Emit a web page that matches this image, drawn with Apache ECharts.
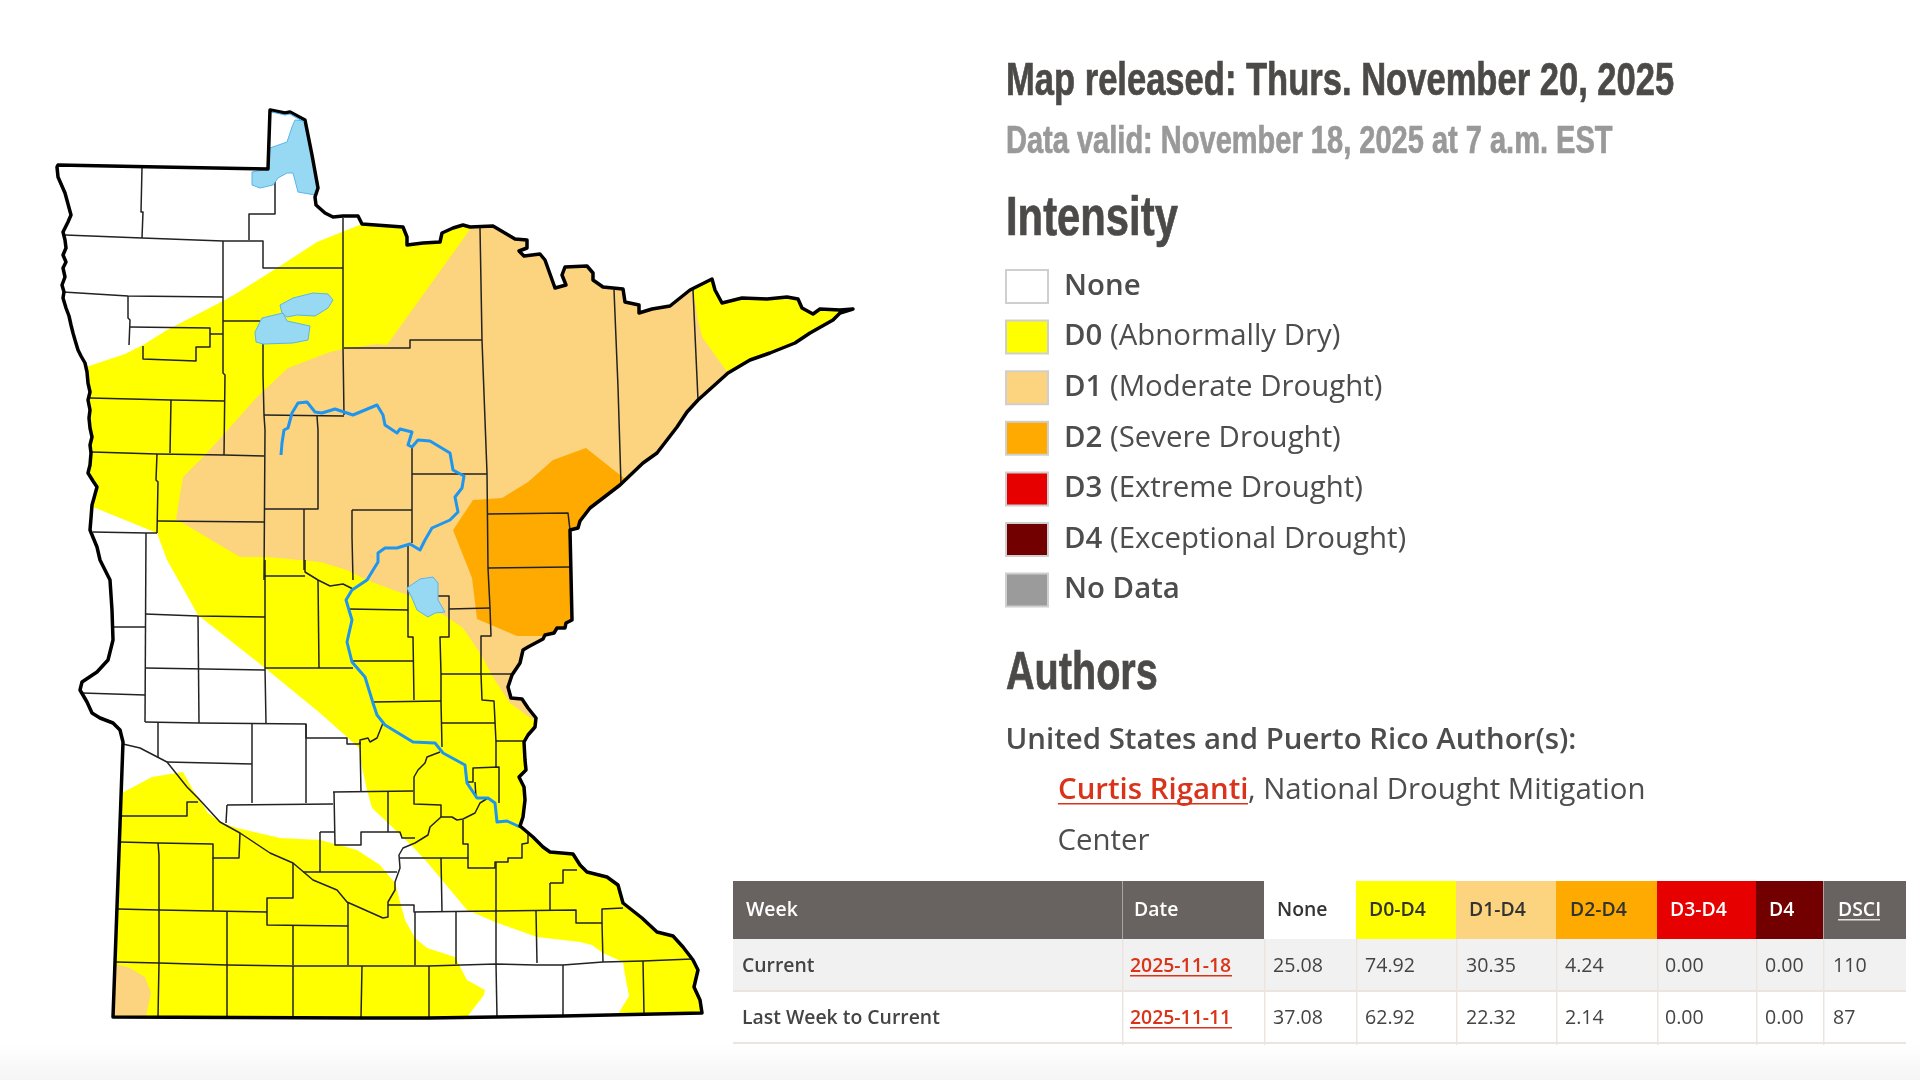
<!DOCTYPE html>
<html>
<head>
<meta charset="utf-8">
<title>Minnesota drought map</title>
<script src="https://cdn.jsdelivr.net/npm/echarts@6/dist/echarts.min.js"></script>
<style>
html, body { margin: 0; padding: 0; background: #fff; }
#main { width: 1920px; height: 1080px; }
</style>
</head>
<body>
<div id="main"></div>
<script>
// map shapes
var stateOutline = [[58,165],[160,167],[268,169],[270,110],[285,113],[290,112],[305,120],[312,155],[318,188],[315,197],[316,205],[325,213],[333,217],[343,216],[358,216],[362,224],[403,227],[407,237],[407,245],[423,243],[440,242],[442,233],[453,228],[463,225],[470,227],[493,226],[515,239],[527,240],[527,248],[519,251],[524,256],[540,254],[545,260],[555,288],[566,285],[562,275],[565,267],[587,266],[593,273],[593,280],[603,287],[623,289],[625,302],[639,305],[639,313],[652,309],[670,306],[690,290],[712,279],[715,290],[722,303],[742,298],[767,299],[787,297],[798,299],[802,308],[813,314],[820,309],[840,310],[853,309],[840,313],[833,320],[810,333],[795,343],[770,353],[750,360],[728,373],[698,400],[687,412],[677,427],[657,453],[643,463],[620,485],[590,508],[580,521],[578,528],[570,530],[572,620],[566,623],[565,628],[557,628],[554,633],[545,635],[543,639],[528,647],[523,650],[520,663],[512,675],[508,687],[511,698],[522,699],[528,708],[536,718],[535,727],[528,735],[524,742],[525,760],[526,770],[519,777],[524,787],[525,800],[523,817],[520,826],[533,837],[543,847],[550,852],[573,854],[580,865],[587,872],[607,877],[618,885],[623,903],[642,918],[657,932],[673,936],[683,947],[693,960],[698,970],[694,987],[700,1000],[702,1013],[563,1016],[496,1017],[428,1018],[360,1018],[113,1017],[123,742],[120,730],[113,723],[100,718],[92,713],[87,702],[80,690],[82,682],[97,672],[108,660],[113,640],[112,610],[110,580],[100,560],[97,547],[90,530],[91,518],[92,505],[94,498],[97,487],[93,481],[88,473],[90,465],[91,453],[90,445],[92,437],[90,428],[89,418],[90,410],[88,400],[90,392],[88,383],[87,372],[85,363],[81,356],[78,350],[75,340],[73,333],[71,325],[69,316],[66,308],[63,298],[64,292],[62,285],[65,277],[63,268],[66,262],[63,255],[66,248],[65,240],[63,232],[66,226],[68,222],[71,215],[65,193],[58,177],[57,167]];
var countyLines = [
  [[142,168],[141,212],[143,212],[142,238]],
  [[275,177],[275,214],[249,214],[249,240]],
  [[65,235],[142,238],[223,241],[263,241],[263,268],[343,268]],
  [[343,218],[343,347],[344,415]],
  [[63,292],[128,296],[223,297]],
  [[223,241],[223,373],[225,375],[224,455]],
  [[128,296],[128,318],[130,320],[129,345]],
  [[130,327],[210,328],[210,347],[196,347],[196,361],[143,359],[143,346]],
  [[210,334],[223,334]],
  [[223,321],[260,321]],
  [[263,343],[263,375],[264,415],[265,430],[264,580]],
  [[90,398],[171,400],[225,401]],
  [[171,400],[170,453]],
  [[92,452],[157,454],[224,455],[264,456]],
  [[157,454],[156,480],[158,482],[157,533]],
  [[157,521],[264,522]],
  [[264,415],[344,416]],
  [[317,416],[318,430],[318,483],[318,509],[264,509]],
  [[304,509],[304,570]],
  [[344,348],[410,348],[410,340],[482,340]],
  [[480,228],[482,340],[483,367],[487,473],[488,568],[490,608],[491,636],[481,636],[481,674]],
  [[412,447],[412,543]],
  [[412,474],[487,474]],
  [[352,510],[412,510]],
  [[352,510],[352,537],[353,580]],
  [[93,532],[146,533],[157,533]],
  [[146,533],[145,722]],
  [[614,290],[618,387],[621,485]],
  [[693,290],[698,400]],
  [[488,514],[568,513],[570,530]],
  [[488,568],[570,567]],
  [[449,609],[490,608]],
  [[438,596],[449,596],[449,637],[440,637],[441,674],[441,702],[442,747]],
  [[441,674],[513,674]],
  [[408,545],[408,637],[413,637],[414,700]],
  [[265,576],[305,576]],
  [[305,560],[305,572],[318,580],[330,586],[343,584],[353,589]],
  [[265,560],[265,668],[266,723]],
  [[318,580],[319,668]],
  [[348,609],[408,610]],
  [[351,661],[413,661]],
  [[265,668],[353,668]],
  [[373,702],[441,701]],
  [[481,674],[482,700],[494,701],[496,742],[496,768]],
  [[442,723],[495,723]],
  [[496,741],[523,741]],
  [[467,782],[473,782],[473,768],[499,767],[499,803]],
  [[475,782],[476,798]],
  [[440,752],[427,757],[425,763],[418,770],[414,777],[414,804],[441,805],[441,817]],
  [[488,798],[480,803],[475,813],[463,819],[457,820],[452,817],[441,817],[430,827],[428,835],[415,843],[403,848],[399,855],[400,868],[395,882],[395,890],[388,902],[388,917],[383,918],[347,902],[337,890],[313,880],[293,863],[270,853],[240,833],[220,822],[198,798],[187,787],[167,762],[140,748],[123,744]],
  [[333,792],[413,791]],
  [[360,742],[361,792]],
  [[145,722],[198,723],[306,724],[306,738],[347,738],[347,744],[360,744],[360,740],[368,738],[370,742],[377,738],[383,723]],
  [[145,614],[198,616],[265,617]],
  [[198,616],[199,723]],
  [[145,668],[265,670]],
  [[113,627],[145,627]],
  [[82,693],[145,695]],
  [[158,723],[158,757]],
  [[167,762],[252,764]],
  [[252,724],[252,803]],
  [[306,724],[306,803]],
  [[227,805],[333,804]],
  [[227,805],[226,823]],
  [[334,792],[335,845],[361,845],[361,832],[400,832],[402,838],[415,838]],
  [[388,792],[388,832]],
  [[320,832],[334,832]],
  [[320,832],[320,872]],
  [[303,872],[397,872]],
  [[240,833],[239,858],[213,858],[213,844],[158,843],[120,842]],
  [[158,843],[159,855],[159,910]],
  [[213,858],[213,911]],
  [[198,802],[187,802],[187,816],[120,816]],
  [[293,863],[293,898],[267,898],[267,925],[348,926]],
  [[348,902],[348,965]],
  [[293,926],[293,965]],
  [[118,909],[159,910],[213,911],[267,912]],
  [[227,912],[227,1017]],
  [[159,910],[159,963],[158,1017]],
  [[116,962],[159,963],[227,965],[293,966],[362,966],[428,966],[496,964],[535,965],[563,965],[603,962],[643,961],[692,959]],
  [[293,966],[293,1017]],
  [[362,966],[361,1018]],
  [[429,966],[429,1018]],
  [[496,964],[497,1017]],
  [[563,965],[563,1016]],
  [[415,912],[415,965]],
  [[388,905],[414,905],[414,912],[495,911],[576,910],[576,923],[602,923],[602,909],[623,908]],
  [[456,912],[456,964]],
  [[496,862],[496,964]],
  [[536,911],[537,963]],
  [[400,858],[441,858],[468,858],[468,868],[495,868],[495,862],[508,862],[508,858],[522,858],[522,844],[528,843],[528,833]],
  [[441,858],[442,912]],
  [[463,820],[463,844],[468,844],[468,858]],
  [[550,883],[563,883],[563,870],[577,870]],
  [[550,883],[550,910]],
  [[602,923],[603,962]],
  [[643,961],[644,1013]]
];
var noneAreas = [stateOutline];
var d0Areas = [
  [[86,367],[125,354],[143,345],[167,330],[223,301],[237,293],[277,268],[317,242],[362,224],[362,205],[880,205],[880,1030],[618,1030],[618,1014],[629,996],[625,975],[623,962],[603,953],[592,945],[580,942],[537,937],[495,922],[472,912],[467,910],[442,880],[427,862],[413,847],[388,823],[372,808],[367,790],[362,767],[359,748],[347,737],[320,713],[265,668],[198,615],[167,560],[157,533],[93,507],[50,490],[50,375]],
  [[100,805],[122,793],[152,777],[183,772],[193,790],[208,813],[220,822],[237,828],[280,838],[320,840],[357,850],[380,865],[395,883],[405,920],[415,938],[427,948],[455,957],[467,980],[485,990],[484,995],[467,1017],[467,1030],[100,1030]]
];
var d1Areas = [
  [[471,228],[387,345],[377,344],[343,349],[330,352],[288,368],[257,397],[225,433],[205,455],[183,477],[176,519],[240,557],[267,557],[320,562],[347,570],[367,580],[393,590],[408,595],[447,617],[463,628],[480,653],[493,677],[510,703],[540,725],[600,600],[650,470],[728,373],[702,337],[698,320],[693,290],[690,270],[480,200]],
  [[100,964],[116,964],[130,968],[145,977],[151,993],[146,1016],[146,1030],[100,1030]]
];
var d2Areas = [
  [[473,500],[502,498],[528,482],[553,460],[586,448],[620,475],[640,490],[600,640],[543,636],[517,636],[477,619],[472,578],[453,530]]
];
var lakes = [
  [[252,172],[268,169],[270,148],[287,142],[292,127],[295,120],[305,121],[312,155],[318,188],[315,195],[298,192],[293,173],[287,173],[278,178],[273,185],[260,188],[252,185]],
  [[280,305],[293,298],[313,293],[328,294],[333,300],[328,308],[315,316],[297,315],[287,317],[282,313]],
  [[283,313],[287,321],[310,326],[308,340],[293,343],[263,344],[256,342],[255,332],[262,318]],
  [[407,588],[420,579],[433,577],[438,583],[438,600],[445,612],[435,613],[428,617],[417,610],[412,598]]
];
var lakeEdges = [
  [[272,112],[285,115],[290,114],[304,122]]
];
var rivers = [
  [[281,455],[282,443],[284,430],[288,428],[292,413],[298,403],[307,402],[315,412],[322,413],[335,409],[353,415],[377,405],[383,415],[385,425],[397,433],[400,429],[412,432],[408,445],[412,447],[418,440],[430,441],[450,453],[453,470],[464,476],[462,488],[455,497],[458,512],[450,520],[432,528],[425,540],[420,550],[410,544],[397,548],[385,548],[378,553],[378,562],[367,580],[352,590],[346,600],[352,620],[347,642],[352,662],[365,677],[373,703],[377,715],[385,725],[413,742],[435,743],[443,753],[465,765],[467,783],[477,798],[488,798],[495,803],[497,822],[507,821],[520,827]]
];

// page text
var titleText = 'Map released: Thurs. November 20, 2025';
var validText = 'Data valid: November 18, 2025 at 7 a.m. EST';
var legendNames = ['None', 'D0', 'D1', 'D2', 'D3', 'D4', 'No Data'];
var legendNotes = ['', '(Abnormally Dry)', '(Moderate Drought)', '(Severe Drought)', '(Extreme Drought)', '(Exceptional Drought)', ''];
var legendColors = ['#ffffff', '#ffff00', '#fcd37f', '#ffaa00', '#e60000', '#730000', '#9b9b9b'];

// table
var tableHeader = ['Week', 'Date', 'None', 'D0-D4', 'D1-D4', 'D2-D4', 'D3-D4', 'D4', 'DSCI'];
var rowCurrent = ['Current', '2025-11-18', '25.08', '74.92', '30.35', '4.24', '0.00', '0.00', '110'];
var rowLastWeek = ['Last Week to Current', '2025-11-11', '37.08', '62.92', '22.32', '2.14', '0.00', '0.00', '87'];

var bodyFont = '"Open Sans", sans-serif';
var headFont = '"Liberation Sans Narrow", "Liberation Sans", sans-serif';
var headColor = '#4b4a48';
var bodyColor = '#4d4d4d';
var linkColor = '#d9341a';
var ruleColor = '#ece5df';

function toPixels(points, api) {
    var out = [];
    for (var i = 0; i < points.length; i++) {
        out.push(api.coord(points[i]));
    }
    return out;
}

function indexData(list) {
    var out = [];
    for (var i = 0; i < list.length; i++) {
        out.push([i, 0]);
    }
    return out;
}

// fills are cut to the state shape
function areaSeries(name, areas, color) {
    return {
        name: name,
        type: 'custom',
        coordinateSystem: 'cartesian2d',
        silent: true,
        clip: false,
        itemStyle: { color: color },
        data: indexData(areas),
        renderItem: function(params, api) {
            return {
                type: 'polygon',
                shape: { points: toPixels(areas[params.dataIndex], api) },
                style: { fill: color },
                clipPath: { type: 'polygon', shape: { points: toPixels(stateOutline, api) } }
            };
        }
    };
}

function lakeSeries() {
    return {
        type: 'custom',
        coordinateSystem: 'cartesian2d',
        silent: true,
        clip: false,
        data: indexData(lakes),
        renderItem: function(params, api) {
            return {
                type: 'polygon',
                shape: { points: toPixels(lakes[params.dataIndex], api) },
                style: { fill: '#97d9f3', stroke: '#5ab4ee', lineWidth: 1 }
            };
        }
    };
}

function pathSeries(lines, color, width, closed) {
    return {
        type: 'custom',
        coordinateSystem: 'cartesian2d',
        silent: true,
        clip: false,
        data: indexData(lines),
        renderItem: function(params, api) {
            return {
                type: closed ? 'polygon' : 'polyline',
                shape: { points: toPixels(lines[params.dataIndex], api) },
                style: { fill: null, stroke: color, lineWidth: width, lineJoin: 'round' }
            };
        }
    };
}

/*==========================================
 * right hand text and table, as graphic elements
 */
function label(text, x, y, size, color, weight) {
    return {
        type: 'text',
        x: x,
        y: y,
        style: {
            text: text,
            fill: color,
            font: (weight || 'normal') + ' ' + size + 'px ' + bodyFont,
            textVerticalAlign: 'middle'
        }
    };
}

// narrow the heading font down to the width of the original
function heading(text, x, y, size, color, scaleX) {
    return {
        type: 'text',
        x: x,
        y: y,
        scaleX: scaleX,
        style: {
            text: text,
            fill: color,
            stroke: color,
            lineWidth: 0.7,
            font: 'bold ' + size + 'px ' + headFont,
            textVerticalAlign: 'bottom'
        }
    };
}

function box(x, y, w, h, fill) {
    return { type: 'rect', shape: { x: x, y: y, width: w, height: h }, style: { fill: fill } };
}

function buildGraphic() {
    var els = [];
    els.push({
        type: 'rect',
        z: -10,
        shape: { x: 0, y: 1044, width: 1920, height: 36 },
        style: {
            fill: new echarts.graphic.LinearGradient(0, 0, 0, 1, [
                { offset: 0, color: '#ffffff' },
                { offset: 1, color: '#f5f5f5' }
            ])
        }
    });
    els.push(heading(titleText, 1006, 105.7, 46, headColor, 0.751));
    els.push(heading(validText, 1006, 161.5, 38.4, '#999999', 0.756));
    els.push(heading('Intensity', 1006, 247.5, 55, headColor, 0.76));
    els.push(heading('Authors', 1006, 701, 53.5, headColor, 0.74));
    els.push(label('United States and Puerto Rico Author(s):', 1005.5, 741, 29.4, bodyColor, 600));
    els.push(label('Curtis Riganti', 1058, 791, 29.4, linkColor, 600));
    els.push(box(1058, 803, 190, 1.6, linkColor));
    els.push(label(', National Drought Mitigation', 1248, 791, 29.4, bodyColor));
    els.push(label('Center', 1057.5, 842, 29.4, bodyColor));

    var edges = [733, 1122, 1264, 1356, 1456, 1556, 1657, 1756, 1823, 1906];
    var headFill = ['#686360', '#686360', '#ffffff', '#ffff00', '#fcd37f', '#ffaa00', '#e60000', '#730000', '#686360'];
    var headText = ['#ffffff', '#ffffff', '#333333', '#333333', '#333333', '#333333', '#ffffff', '#ffffff', '#ffffff'];
    var headX = [746, 1134, 1277, 1369, 1469, 1570, 1670, 1769, 1838];
    var cellX = [742, 1130, 1273, 1365, 1466, 1565, 1665, 1765, 1833];
    var i;

    els.push(box(733, 939, 1173, 52, '#f1f1f1'));
    els.push(box(733, 990, 1173, 2, ruleColor));
    els.push(box(733, 1042, 1173, 2, ruleColor));
    for (i = 0; i < tableHeader.length; i++) {
        els.push(box(edges[i], 881, edges[i + 1] - edges[i], 58, headFill[i]));
        if (i > 0) {
            els.push(box(edges[i], 939, 1.5, 106, ruleColor));
        }
    }
    els.push(box(1122, 881, 1, 58, '#a9a5a2'));
    els.push(box(1823, 881, 1, 58, '#a9a5a2'));
    for (i = 0; i < tableHeader.length; i++) {
        els.push(label(tableHeader[i], headX[i], 910, 19.4, headText[i], 600));
        els.push(label(rowCurrent[i], cellX[i], 966, i < 2 ? 19.4 : 19.6, i == 1 ? linkColor : '#444444', i < 2 ? 600 : 'normal'));
        els.push(label(rowLastWeek[i], cellX[i], 1018, i < 2 ? 19.4 : 19.6, i == 1 ? linkColor : '#444444', i < 2 ? 600 : 'normal'));
    }
    els.push(box(1130, 975, 102, 1.5, linkColor));
    els.push(box(1130, 1027, 102, 1.5, linkColor));
    els.push(box(1838, 919, 42, 1.5, '#e4e2e0'));
    return els;
}

function legendFormatter(name) {
    var i = legendNames.indexOf(name);
    return '{b|' + name + '}' + (legendNotes[i] ? ' ' + legendNotes[i] : '');
}

function legendData() {
    var out = [];
    for (var i = 0; i < legendNames.length; i++) {
        out.push({
            name: legendNames[i],
            icon: 'rect',
            itemStyle: { color: legendColors[i], borderColor: '#cfcfcf', borderWidth: 2 }
        });
    }
    return out;
}

var myChart = echarts.init(document.getElementById('main'), null, { renderer: 'canvas' });
myChart.setOption({
    animation: false,
    backgroundColor: '#ffffff',
    grid: { left: 0, right: 0, top: 0, bottom: 0 },
    xAxis: { type: 'value', min: 0, max: 1920, show: false },
    yAxis: { type: 'value', min: 0, max: 1080, inverse: true, show: false },
    legend: {
        orient: 'vertical',
        left: 1005,
        top: 269,
        padding: 0,
        itemWidth: 42,
        itemHeight: 33,
        itemGap: 15.6,
        selectedMode: false,
        data: legendData(),
        formatter: legendFormatter,
        textStyle: {
            fontFamily: bodyFont,
            fontSize: 29.4,
            color: bodyColor,
            padding: [0, 0, 0, 11],
            rich: {
                b: { fontFamily: bodyFont, fontSize: 29.4, fontWeight: 600, color: bodyColor }
            }
        }
    },
    graphic: { elements: buildGraphic() },
    series: [
        areaSeries('None', noneAreas, legendColors[0]),
        areaSeries('D0', d0Areas, legendColors[1]),
        areaSeries('D1', d1Areas, legendColors[2]),
        areaSeries('D2', d2Areas, legendColors[3]),
        areaSeries('D3', [], legendColors[4]),
        areaSeries('D4', [], legendColors[5]),
        areaSeries('No Data', [], legendColors[6]),
        pathSeries(countyLines, '#222222', 1.5, false),
        lakeSeries(),
        pathSeries(rivers, '#1e96f0', 3, false),
        pathSeries(noneAreas, '#000000', 3.5, true),
        pathSeries(lakeEdges, '#4fb3ee', 1.2, false)
    ]
});
</script>
</body>
</html>
